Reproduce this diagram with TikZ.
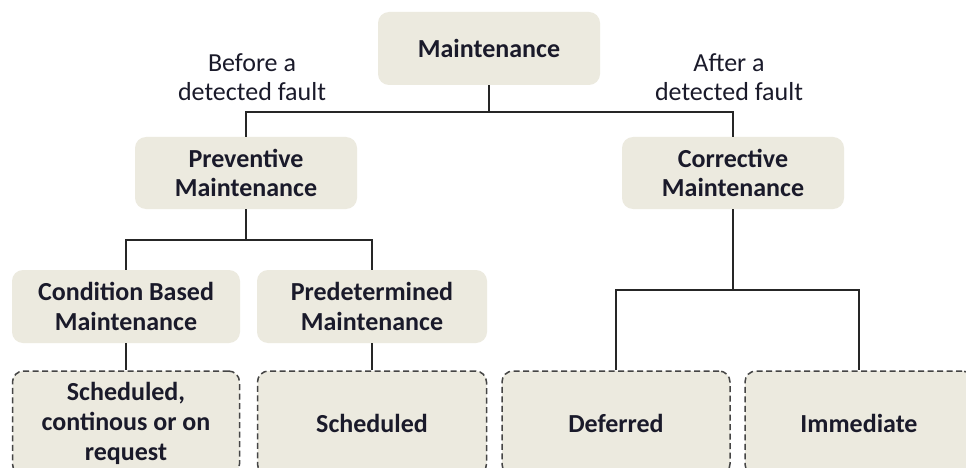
\documentclass[tikz,border=0pt]{standalone}
\usepackage{fontspec}
\setmainfont{Carlito}
\definecolor{boxfill}{HTML}{ECEADF}
\definecolor{txt}{HTML}{1A1A2A}
\definecolor{dashc}{HTML}{454545}
\begin{document}
\begin{tikzpicture}[x=1pt,y=-1pt,
  every node/.style={font=\fontsize{26}{29.5}\selectfont, text=txt, align=center, inner sep=0pt},
  solidbox/.style={fill=boxfill, rounded corners=11pt, font=\fontsize{26}{29.5}\selectfont\bfseries},
  dashbox/.style={fill=boxfill, draw=dashc, line width=1.5pt, dash pattern=on 6pt off 3.5pt, rounded corners=11pt, font=\fontsize{26}{30}\selectfont\bfseries},
  conn/.style={draw=black!85, line width=1.3pt}]
\clip (0,0) rectangle (966,468);
\fill[white] (0,0) rectangle (966,468);
% solid boxes
\node[solidbox, minimum width=222pt, minimum height=73pt] (m) at (489,48.5) {Maintenance};
\node[solidbox, minimum width=222pt, minimum height=72pt] (pm) at (246,173) {Preventive\\Maintenance};
\node[solidbox, minimum width=222pt, minimum height=72pt] (cm) at (733,173) {Corrective\\Maintenance};
\node[solidbox, minimum width=228pt, minimum height=73pt] (cb) at (126,306.5) {Condition Based\\Maintenance};
\node[solidbox, minimum width=230pt, minimum height=73pt] (pd) at (372,306.5) {Predetermined\\Maintenance};
% dashed boxes
\node[dashbox, minimum width=227pt, minimum height=104pt] (s1) at (126,423) {Scheduled,\\continous or on\\request};
\node[dashbox, minimum width=229pt, minimum height=104pt] (s2) at (372,423) {Scheduled};
\node[dashbox, minimum width=228pt, minimum height=104pt] (df) at (616,423) {Deferred};
\node[dashbox, minimum width=228pt, minimum height=104pt] (im) at (859,423) {Immediate};
% labels
\node (lb) at (252,77) {Before a\\detected fault};
\node (la) at (729,77) {After a\\detected fault};
% junctions
\coordinate (j1) at (489,112);
\coordinate (j2) at (246,240);
\coordinate (j3) at (733,290);
\draw[conn] (m.south) -- (j1);
\draw[conn] (pm.north) |- (j1) -| (cm.north);
\draw[conn] (pm.south) -- (j2);
\draw[conn] (cb.north) |- (j2) -| (pd.north);
\draw[conn] (cm.south) -- (j3);
\draw[conn] (df.north) |- (j3) -| (im.north);
\draw[conn] (cb.south) -- (s1.north);
\draw[conn] (pd.south) -- (s2.north);
\end{tikzpicture}
\end{document}
